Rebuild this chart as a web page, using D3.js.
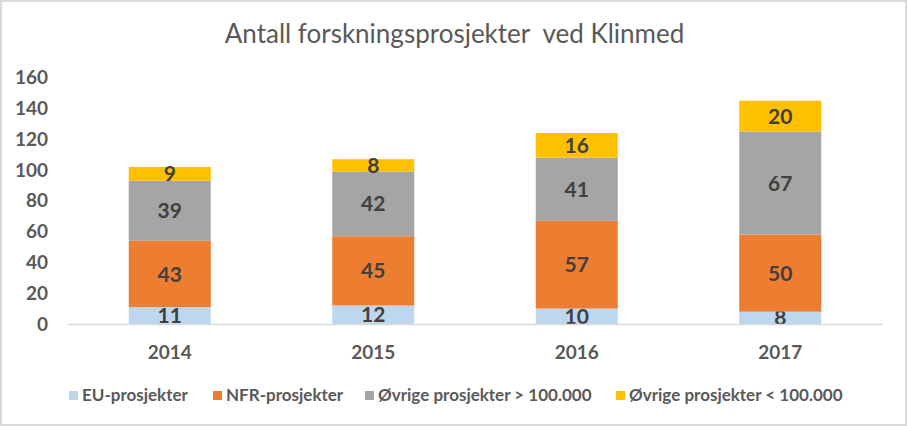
<!DOCTYPE html>
<html><head><meta charset="utf-8">
<script src="https://cdn.jsdelivr.net/npm/d3@7"></script>
<style>body{margin:0;background:#fff;} svg{display:block;font-family:Lato,"Open Sans",sans-serif;}</style>
</head><body>
<svg id="c" width="907" height="426"></svg>
<script>
const years = ["2014","2015","2016","2017"];
const seriesNames = ["EU-prosjekter","NFR-prosjekter","Øvrige prosjekter > 100.000","Øvrige prosjekter < 100.000"];
const euValues = [11,12,10,8];
const nfrValues = [43,45,57,50];
const overValues = [39,42,41,67];
const underValues = [9,8,16,20];
const yTicks = [0,20,40,60,80,100,120,140,160];
const colors = ["#BDD7EE","#ED7D31","#A5A5A5","#FFC000"];
const title = "Antall forskningsprosjekter  ved Klinmed";

(function(){
const svg = d3.select("#c");
const W = 907, H = 426;
svg.append("rect").attr("x",1).attr("y",1).attr("width",W-2).attr("height",H-2).attr("fill","#fff").attr("stroke","#d9d9d9").attr("stroke-width",2);

const pl = 68, pr = 882, pt = 77.6, pb = 324;
const x = d3.scaleBand().domain(years).range([pl,pr]).paddingInner(0.597).paddingOuter(0.2985);
const y = d3.scaleLinear().domain([0,160]).range([pb,pt]);

const rows = years.map((yr,i)=>({year:yr, s0:euValues[i], s1:nfrValues[i], s2:overValues[i], s3:underValues[i]}));
const stack = d3.stack().keys(["s0","s1","s2","s3"])(rows);

svg.append("text").attr("x",454.5).attr("y",43).attr("text-anchor","middle")
  .style("white-space","pre")
  .attr("font-size",26).attr("fill","#595959").text(title);

const yAxis = d3.axisLeft(y).tickValues(yTicks).tickSize(0).tickPadding(0);
const ga = svg.append("g").attr("transform",`translate(48,0)`).call(yAxis);
ga.select(".domain").remove();
ga.selectAll("text").attr("font-size",19).attr("font-weight","bold").attr("fill","#595959").attr("font-family","Lato, sans-serif").attr("x",0);

stack.forEach((s,k)=>{
  const g = svg.append("g");
  g.selectAll("rect").data(s).enter().append("rect")
    .attr("x",d=>x(d.data.year)).attr("width",x.bandwidth())
    .attr("y",d=>y(d[1])).attr("height",d=>y(d[0])-y(d[1]))
    .attr("fill",colors[k]);
  g.selectAll("text").data(s).enter().append("text")
    .attr("x",d=>x(d.data.year)+x.bandwidth()/2)
    .attr("y",d=>(y(d[0])+y(d[1]))/2)
    .attr("dy","0.36em").attr("text-anchor","middle")
    .attr("font-size",21).attr("font-weight","bold").attr("fill","#404040")
    .text(d=>d[1]-d[0]);
});

const xAxis = d3.axisBottom(x).tickSize(0).tickPadding(0);
const gx = svg.append("g").attr("transform",`translate(0,${pb})`).call(xAxis);
gx.select(".domain").attr("stroke","#d9d9d9").attr("stroke-width",1.5);
gx.selectAll("text").attr("y",35).attr("dy",0).attr("font-size",19).attr("font-weight","bold").attr("fill","#595959").attr("font-family","Lato, sans-serif");

const legendX = [69,213,365,616];
const lg = svg.append("g");
seriesNames.forEach((n,i)=>{
  lg.append("rect").attr("x",legendX[i]).attr("y",391).attr("width",9).attr("height",9).attr("fill",colors[i]);
  lg.append("text").attr("x",legendX[i]+13).attr("y",401)
    .attr("font-size",17).attr("font-weight","bold").attr("fill","#595959").text(n);
});
})();
</script>
</body></html>
